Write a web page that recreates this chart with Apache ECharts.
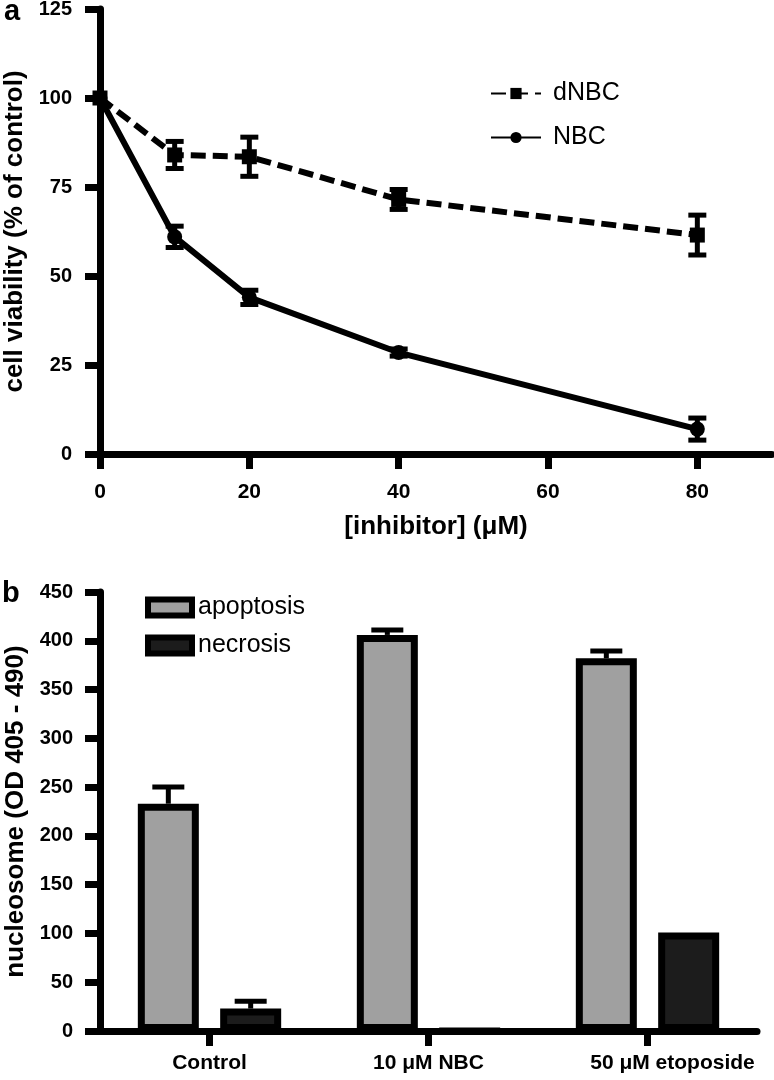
<!DOCTYPE html>
<html><head><meta charset="utf-8">
<script src="https://cdn.jsdelivr.net/npm/echarts@6/dist/echarts.min.js"></script>
<style>html,body{margin:0;padding:0;background:#fff}#c{width:774px;height:1080px}</style>
</head><body><div id="c"></div>
<script>
// ---- Panel a data ----
const concentrations = [0, 10, 20, 40, 80];
const dNBC = [100, 84, 83.5, 71.5, 61.5];
const dNBCErr = [0, 3.8, 5.5, 2.8, 5.6];
const NBC = [100, 61, 44, 28.5, 7];
const NBCErr = [0, 3, 2, 1, 3.1];
const xTicksA = [0, 20, 40, 60, 80];

// ---- Panel b data ----
const treatments = ['Control', '10 \u03bcM NBC', '50 \u03bcM etoposide'];
const apoptosis = [233, 406, 382];
const apoptosisErr = [17, 5, 7.5];
const necrosis = [23, 0, 101];
const necrosisErr = [7.5, 0, 0];

const FF = '"Liberation Sans", Arial, Helvetica, sans-serif';
const BAR_W = 61, BAR_GAP = 0.35;

const axisCommon = {
  axisLine: { show: true, lineStyle: { color: '#000', width: 7 } },
  axisTick: { show: true, length: 15, lineStyle: { color: '#000', width: 7 } },
  splitLine: { show: false },
  nameTextStyle: { color: '#000', fontFamily: FF, fontWeight: 'bold', fontSize: 26 }
};

function errA(vals, errs) {
  return {
    type: 'custom', xAxisIndex: 0, yAxisIndex: 0, silent: true, clip: false, z: 5,
    data: concentrations.map((c, i) => [c, vals[i], errs[i]]),
    renderItem(params, api) {
      const x = api.value(0), y = api.value(1), e = api.value(2);
      if (!e) return { type: 'group', children: [] };
      const t = api.coord([x, y + e]), b = api.coord([x, y - e]);
      const hw = 9, st = { stroke: '#000', lineWidth: 5 };
      return { type: 'group', children: [
        { type: 'line', shape: { x1: t[0], y1: t[1], x2: b[0], y2: b[1] }, style: st },
        { type: 'line', shape: { x1: t[0] - hw, y1: t[1], x2: t[0] + hw, y2: t[1] }, style: st },
        { type: 'line', shape: { x1: b[0] - hw, y1: b[1], x2: b[0] + hw, y2: b[1] }, style: st }
      ]};
    }
  };
}

function errB(vals, errs, side) {
  return {
    type: 'custom', xAxisIndex: 1, yAxisIndex: 1, silent: true, clip: false, z: 1,
    data: treatments.map((c, i) => [i, vals[i], errs[i]]),
    renderItem(params, api) {
      const i = api.value(0), y = api.value(1), e = api.value(2);
      if (!e) return { type: 'group', children: [] };
      const off = side * BAR_W * (1 + BAR_GAP) / 2;
      const base = api.coord([i, y]), top = api.coord([i, y + e]);
      const cx = base[0] + off, hw = 16, st = { stroke: '#000', lineWidth: 5 };
      return { type: 'group', children: [
        { type: 'line', shape: { x1: cx, y1: base[1], x2: cx, y2: top[1] }, style: st },
        { type: 'line', shape: { x1: cx - hw, y1: top[1], x2: cx + hw, y2: top[1] }, style: st }
      ]};
    }
  };
}

const chart = echarts.init(document.getElementById('c'), null, { renderer: 'canvas' });
chart.setOption({
  backgroundColor: '#fff',
  animation: false,
  title: [
    { text: 'a', left: 4, top: -3, padding: 0, textStyle: { fontSize: 29, fontWeight: 'bold', color: '#000', fontFamily: FF } },
    { text: 'b', left: 2, top: 579, padding: 0, textStyle: { fontSize: 29, fontWeight: 'bold', color: '#000', fontFamily: FF } }
  ],
  legend: [
    { data: ['dNBC', 'NBC'], orient: 'vertical', left: 490, top: 81, padding: 0, itemWidth: 50, itemHeight: 14, itemGap: 19,
      textStyle: { fontSize: 25, color: '#000', fontFamily: FF, padding: [0, 0, 0, 7] } },
    { data: ['apoptosis', 'necrosis'], orient: 'vertical', left: 145, top: 595, padding: 0, itemWidth: 44, itemHeight: 16, itemGap: 13,
      icon: 'rect', itemStyle: { borderColor: '#000', borderWidth: 6 },
      textStyle: { fontSize: 25, color: '#000', fontFamily: FF, padding: [0, 0, 0, 1] } }
  ],
  grid: [
    { left: 100, top: 9, width: 672, height: 445, outerBoundsMode: 'none', containLabel: false },
    { left: 100, top: 592, width: 657, height: 439, outerBoundsMode: 'none', containLabel: false }
  ],
  xAxis: [
    Object.assign({}, axisCommon, {
      type: 'value', gridIndex: 0, min: 0, max: 90, interval: 20,
      name: '[inhibitor] (\u03bcM)', nameLocation: 'middle', nameGap: 60,
      axisLabel: { showMaxLabel: false, margin: 14, padding: [14, 0, 0, 0], fontSize: 21, fontWeight: 'bold', color: '#000', fontFamily: FF,
        formatter: v => (xTicksA.indexOf(v) >= 0 ? String(v) : '') }
    }),
    Object.assign({}, axisCommon, {
      type: 'category', gridIndex: 1, data: treatments,
      axisTick: Object.assign({}, axisCommon.axisTick, { alignWithLabel: true }),
      axisLabel: { margin: 22, fontSize: 21, fontWeight: 'bold', color: '#000', fontFamily: FF, interval: 0,
        formatter: (v, i) => (i === 2 ? '{s|' + v + '}' : v),
        rich: { s: { fontSize: 21, fontWeight: 'bold', color: '#000', fontFamily: FF, padding: [0, 0, 0, 50] } } }
    })
  ],
  yAxis: [
    Object.assign({}, axisCommon, {
      type: 'value', gridIndex: 0, min: 0, max: 125, interval: 25,
      name: 'cell viability (% of control)', nameLocation: 'middle', nameGap: 65, nameRotate: 90,
      axisLabel: { margin: 28, fontSize: 20, fontWeight: 'bold', color: '#000', fontFamily: FF }
    }),
    Object.assign({}, axisCommon, {
      type: 'value', gridIndex: 1, min: 0, max: 450, interval: 50,
      name: 'nucleosome (OD 405 - 490)', nameLocation: 'middle', nameGap: 65, nameRotate: 90,
      axisLabel: { margin: 27, fontSize: 20, fontWeight: 'bold', color: '#000', fontFamily: FF }
    })
  ],
  series: [
    { name: 'dNBC', type: 'line', xAxisIndex: 0, yAxisIndex: 0, clip: false, z: 6,
      data: concentrations.map((c, i) => [c, dNBC[i]]),
      symbol: 'rect', symbolSize: 15, color: '#000',
      lineStyle: { color: '#000', width: 6, type: [15, 7] }, itemStyle: { color: '#000' } },
    { name: 'NBC', type: 'line', xAxisIndex: 0, yAxisIndex: 0, clip: false, z: 6,
      data: concentrations.map((c, i) => [c, NBC[i]]),
      symbol: 'circle', symbolSize: 15, color: '#000',
      lineStyle: { color: '#000', width: 6 }, itemStyle: { color: '#000' } },
    errA(dNBC, dNBCErr),
    errA(NBC, NBCErr),
    { name: 'apoptosis', type: 'bar', xAxisIndex: 1, yAxisIndex: 1, data: apoptosis,
      barWidth: BAR_W, barGap: (BAR_GAP * 100) + '%', z: 3,
      itemStyle: { color: '#a0a0a0', borderColor: '#000', borderWidth: 7 } },
    { name: 'necrosis', type: 'bar', xAxisIndex: 1, yAxisIndex: 1, data: necrosis,
      barWidth: BAR_W, barGap: (BAR_GAP * 100) + '%', z: 3,
      itemStyle: { color: '#1c1c1c', borderColor: '#000', borderWidth: 7 } },
    errB(apoptosis, apoptosisErr, -1),
    errB(necrosis, necrosisErr, 1)
  ]
});
</script>
</body></html>
